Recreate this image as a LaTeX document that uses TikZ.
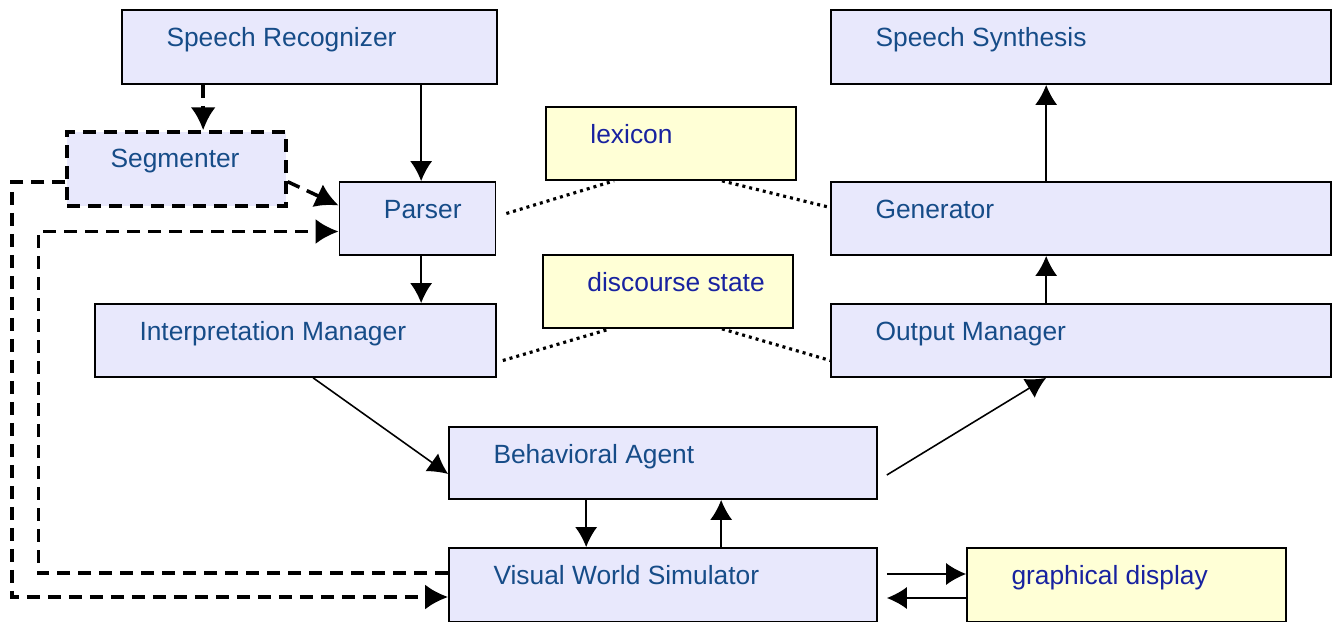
\documentclass[tikz,border=0pt]{standalone}
\usepackage{fontspec}
\setmainfont{Liberation Sans}
\usetikzlibrary{arrows.meta,calc}

\tikzset{	PxGrid/.style={x={(0.02cm,0cm)},y={(0cm,-0.02cm)}},
		blk/.style={draw=black,line width=1pt,fill=lavend,inner sep=0pt},
		mem/.style={blk,fill=memyellow},
		txt/.style={anchor=base west,inner sep=0pt,font=\fontsize{15}{18}\selectfont,
				text=txtblue,xshift=0.9cm,yshift=-0.74cm},
		memtxt/.style={txt,text=memblue},
		flow/.style={line width=0.9pt,->},
		dsh/.style={line width=2pt,dash pattern=on 0.26cm off 0.16cm},
		dflow/.style={dsh,-{Latex[length=4.6mm,width=5mm]}},
		dotline/.style={line width=1.8pt,dash pattern=on 0.06cm off 0.08cm}
				}
\definecolor{lavend}{RGB}{232,232,252}
\definecolor{memyellow}{RGB}{255,255,214}
\definecolor{txtblue}{RGB}{22,76,136}
\definecolor{memblue}{RGB}{24,34,160}

\begin{document}
\begin{tikzpicture}[>={Latex[length=4mm,width=4.4mm]}, PxGrid]
	\useasboundingbox (0,0) rectangle (1332,622);

	% module boxes
	\node[blk,minimum width=7.5cm,minimum height=1.48cm,label={[txt]north west:Speech Recognizer}] (sr) at (309.5,47) {};
	\node[blk,minimum width=10cm,minimum height=1.48cm,label={[txt]north west:Speech Synthesis}] (ss) at (1081,47) {};
	\node[blk,dsh,minimum width=4.38cm,minimum height=1.48cm,label={[txt]north west:Segmenter}] (seg) at (176.5,169) {};
	\node[blk,minimum width=3.12cm,minimum height=1.46cm,label={[txt]north west:Parser}] (parser) at (417.5,218.5) {};
	\node[blk,minimum width=10cm,minimum height=1.46cm,label={[txt]north west:Generator}] (gen) at (1081,218.5) {};
	\node[blk,minimum width=8.02cm,minimum height=1.46cm,label={[txt]north west:Interpretation Manager}] (im) at (295.5,340.5) {};
	\node[blk,minimum width=10cm,minimum height=1.46cm,label={[txt]north west:Output Manager}] (om) at (1081,340.5) {};
	\node[blk,minimum width=8.56cm,minimum height=1.44cm,label={[txt]north west:Behavioral Agent}] (ba) at (663,463) {};
	\node[blk,minimum width=8.56cm,minimum height=1.48cm,label={[txt]north west:Visual World Simulator}] (vws) at (663,585) {};

	% knowledge stores
	\node[mem,minimum width=5cm,minimum height=1.46cm,label={[memtxt]north west:lexicon}] (lex) at (671,143.5) {};
	\node[mem,minimum width=5cm,minimum height=1.46cm,label={[memtxt]north west:discourse state}] (ds) at (668,291.5) {};
	\node[mem,minimum width=6.38cm,minimum height=1.48cm,label={[memtxt]north west:graphical display}] (gd) at (1126.5,585) {};

	% main flow
	\draw[flow] ($(sr.south west)+(300,0)$) coordinate (p1) -- (p1 |- parser.north);
	\draw[flow] ($(parser.south west)+(82.5,0)$) coordinate (p2) -- (p2 |- im.north);
	\draw[flow] ($(im.south west)+(219,0)$) -- ($(ba.west)+(0,11)$);
	\draw[flow] ($(ba.east)+(9,12)$) -- ($(om.south west)+(216,0)$);
	\draw[flow] ($(om.north west)+(216,0)$) coordinate (p3) -- (p3 |- gen.south);
	\draw[flow] ($(gen.north west)+(216,0)$) coordinate (p4) -- (p4 |- ss.south);
	\draw[flow] ($(ba.south west)+(138,0)$) coordinate (p5) -- (p5 |- vws.north);
	\draw[flow] ($(vws.north west)+(273,0)$) coordinate (p6) -- (p6 |- ba.south);
	\draw[flow] ($(vws.east)+(9,-11)$) coordinate (p7) -- (p7 -| gd.west);
	\draw[flow] ($(gd.west)+(0,13)$) -- ($(vws.east)+(9,13)$);

	% segmenter and feedback paths
	\draw[dflow] ($(sr.south west)+(82,0)$) coordinate (q1) -- (q1 |- seg.north);
	\draw[dflow] ($(seg.south east)+(0,-26)$) -- ($(parser.west)+(0,-13)$);
	\draw[dflow] ($(vws.west)+(0,-12)$) -| ($(parser.west)+(-300,13)$) -- ($(parser.west)+(0,13)$);
	\draw[dflow] ($(seg.west)+(0,13)$) -| ($(vws.west)+(-436,12)$) -- ($(vws.west)+(0,12)$);

	% store access
	\draw[dotline] ($(parser.east)+(10,-5)$) -- ($(lex.south)+(-57,0)$);
	\draw[dotline] ($(lex.south)+(51,0)$) -- ($(gen.west)+(0,-11)$);
	\draw[dotline] ($(im.east)+(6,20)$) -- ($(ds.south)+(-58,0)$);
	\draw[dotline] ($(ds.south)+(54,0)$) -- ($(om.west)+(0,20)$);
\end{tikzpicture}
\end{document}
